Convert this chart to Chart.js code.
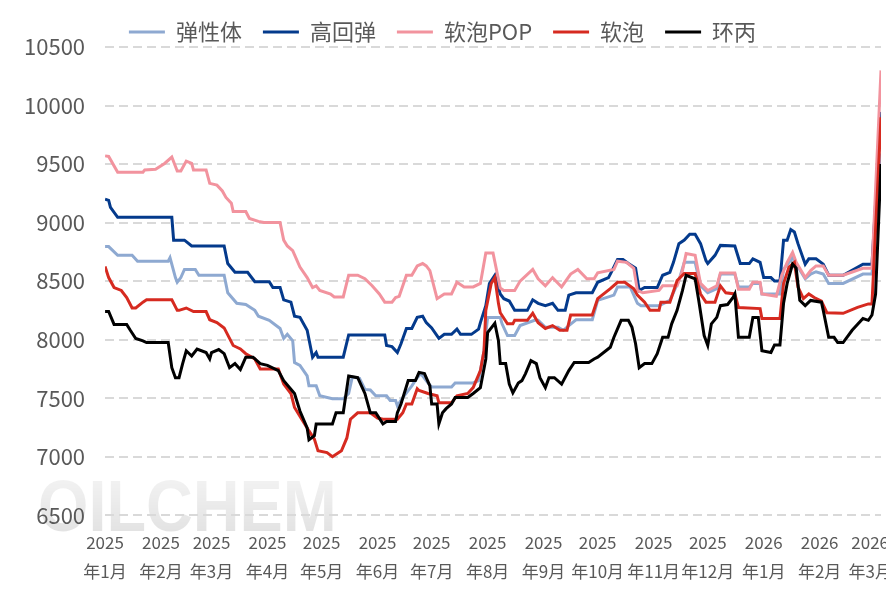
<!DOCTYPE html>
<html>
<head>
<meta charset="utf-8">
<script src="https://cdn.jsdelivr.net/npm/chart.js@4"></script>
<style>
  html, body { margin: 0; padding: 0; background: #fff; }
  #wrap { width: 886px; height: 590px; position: relative; }
</style>
</head>
<body>
<div id="wrap"><canvas id="myChart"></canvas></div>
<script>
// month ticks on the x axis (first day of each month)
const tickMonths = ['2025-01', '2025-02', '2025-03', '2025-04', '2025-05', '2025-06', '2025-07',
  '2025-08', '2025-09', '2025-10', '2025-11', '2025-12', '2026-01', '2026-02', '2026-03'];

// [days since 2025-01-01, price]
const tanxingti = [[0,8795],[2,8795],[7,8720],[15,8720],[18,8670],[35,8670],[36,8700],[39,8530],[40,8490],[42,8530],[44,8600],[50,8600],[52,8550],[66,8550],[68,8400],[73,8310],[78,8300],[83,8250],[85,8200],[91,8165],[97,8095],[99,8010],[101,8045],[104,7990],[105,7805],[108,7780],[112,7690],[113,7605],[117,7605],[119,7520],[126,7495],[132,7495],[135,7540],[137,7680],[141,7670],[144,7575],[147,7570],[150,7520],[156,7520],[158,7480],[161,7480],[162,7435],[165,7505],[170,7605],[173,7675],[175,7710],[179,7630],[181,7595],[192,7595],[194,7630],[204,7630],[207,7650],[210,7905],[212,8190],[219,8190],[220,8135],[223,8035],[227,8035],[230,8120],[238,8165],[240,8165],[244,8105],[251,8105],[254,8080],[257,8120],[261,8170],[270,8170],[273,8335],[282,8380],[284,8450],[291,8450],[295,8310],[297,8290],[307,8290],[313,8335],[318,8505],[321,8660],[327,8660],[330,8460],[334,8400],[339,8435],[341,8560],[349,8560],[351,8450],[357,8450],[359,8480],[363,8480],[364,8390],[374,8390],[376,8600],[381,8700],[384,8620],[388,8520],[391,8560],[394,8580],[398,8560],[401,8480],[409,8480],[420,8560],[425,8560],[430,9590]];

const gaohuitan = [[0,9200],[2,9190],[3,9130],[7,9045],[37,9045],[38,8850],[44,8850],[48,8800],[66,8800],[68,8650],[72,8575],[79,8575],[83,8495],[91,8495],[93,8445],[97,8445],[99,8340],[103,8320],[105,8200],[108,8190],[112,8080],[115,7850],[117,7890],[118,7850],[132,7850],[135,8040],[155,8040],[156,7950],[159,7940],[162,7890],[164,7965],[167,8095],[170,8095],[173,8190],[176,8200],[178,8145],[181,8100],[185,8010],[188,8045],[192,8045],[195,8090],[197,8045],[203,8045],[207,8090],[208,8145],[211,8290],[213,8480],[216,8550],[219,8390],[221,8350],[224,8330],[227,8250],[234,8250],[237,8340],[240,8310],[244,8290],[248,8310],[251,8250],[255,8250],[257,8380],[261,8400],[270,8400],[273,8490],[279,8530],[281,8590],[284,8685],[287,8685],[290,8650],[294,8610],[296,8420],[299,8445],[306,8445],[309,8550],[313,8575],[315,8660],[318,8820],[321,8850],[324,8900],[327,8900],[330,8820],[333,8675],[334,8650],[338,8720],[341,8805],[349,8800],[352,8650],[357,8650],[359,8690],[363,8660],[365,8530],[369,8530],[371,8500],[374,8500],[376,8850],[378,8850],[380,8940],[382,8920],[384,8820],[388,8645],[390,8690],[394,8690],[398,8645],[401,8550],[409,8550],[420,8645],[425,8645],[430,9945]];

const ruanpaoPOP = [[0,9570],[2,9565],[7,9430],[21,9430],[22,9450],[28,9455],[33,9505],[37,9560],[40,9440],[42,9440],[45,9525],[48,9505],[49,9450],[56,9450],[58,9335],[62,9320],[65,9270],[67,9215],[70,9165],[71,9095],[78,9095],[80,9035],[85,9010],[88,9000],[97,9000],[99,8850],[101,8800],[104,8760],[108,8620],[112,8530],[115,8445],[117,8460],[119,8420],[125,8390],[127,8365],[132,8365],[135,8550],[140,8550],[144,8520],[148,8460],[152,8390],[155,8320],[159,8320],[161,8360],[163,8370],[167,8550],[170,8550],[173,8630],[176,8650],[178,8630],[180,8590],[184,8350],[188,8390],[192,8390],[195,8490],[199,8450],[204,8450],[208,8480],[211,8740],[215,8740],[219,8440],[221,8420],[227,8420],[230,8500],[237,8600],[240,8520],[244,8460],[248,8530],[253,8450],[258,8560],[262,8600],[267,8520],[271,8520],[273,8570],[282,8600],[284,8670],[289,8660],[293,8610],[295,8420],[298,8400],[307,8420],[309,8460],[317,8460],[320,8590],[322,8735],[327,8720],[330,8480],[334,8420],[339,8460],[341,8570],[349,8570],[351,8430],[357,8430],[359,8490],[363,8490],[364,8390],[372,8370],[375,8550],[378,8660],[381,8745],[383,8660],[388,8530],[391,8590],[394,8630],[398,8630],[401,8550],[409,8550],[420,8610],[425,8610],[430,10300]];

const ruanpao = [[0,8625],[2,8530],[5,8445],[9,8420],[12,8360],[15,8270],[17,8270],[21,8320],[23,8340],[37,8340],[40,8250],[41,8250],[45,8270],[49,8240],[56,8240],[58,8170],[62,8145],[66,8100],[71,7950],[75,7920],[78,7880],[83,7835],[86,7750],[96,7750],[99,7620],[103,7540],[105,7420],[109,7320],[113,7220],[116,7150],[118,7050],[123,7035],[126,7000],[131,7050],[134,7160],[136,7320],[140,7375],[147,7375],[151,7330],[154,7320],[162,7320],[165,7375],[167,7450],[170,7450],[173,7580],[174,7565],[179,7540],[184,7520],[185,7460],[192,7460],[195,7520],[201,7540],[204,7590],[208,7735],[210,7905],[211,8250],[214,8480],[216,8530],[218,8310],[219,8230],[223,8135],[226,8135],[227,8165],[234,8165],[237,8225],[240,8145],[244,8095],[248,8120],[252,8080],[256,8080],[258,8210],[270,8210],[273,8350],[280,8435],[284,8490],[288,8490],[293,8435],[295,8380],[299,8320],[302,8250],[307,8250],[308,8320],[313,8320],[317,8505],[321,8565],[327,8565],[330,8390],[333,8320],[338,8320],[341,8460],[344,8400],[349,8390],[351,8275],[363,8265],[364,8180],[374,8180],[376,8480],[379,8620],[382,8660],[384,8450],[387,8350],[390,8390],[393,8360],[397,8330],[400,8230],[409,8225],[417,8275],[423,8305],[425,8305],[430,9900]];

const huanbing = [[0,8240],[2,8240],[5,8130],[12,8130],[14,8080],[17,8010],[21,7990],[23,7975],[35,7975],[37,7760],[39,7675],[41,7675],[43,7795],[45,7905],[48,7860],[51,7920],[56,7890],[58,7835],[59,7890],[63,7915],[66,7880],[69,7760],[72,7795],[75,7745],[78,7850],[82,7850],[86,7795],[90,7780],[96,7735],[99,7650],[105,7540],[108,7390],[112,7245],[113,7145],[116,7180],[117,7280],[126,7280],[128,7375],[132,7375],[135,7690],[140,7675],[144,7540],[147,7375],[150,7375],[154,7280],[156,7300],[161,7300],[162,7375],[164,7450],[168,7650],[172,7650],[174,7720],[177,7710],[180,7605],[181,7450],[184,7450],[185,7280],[187,7375],[189,7410],[192,7450],[194,7505],[201,7505],[204,7540],[208,7590],[211,7835],[212,8060],[215,8120],[216,8140],[218,7990],[219,7795],[222,7795],[224,7620],[226,7545],[229,7630],[231,7650],[233,7710],[236,7820],[239,7795],[241,7675],[244,7590],[246,7675],[249,7675],[253,7620],[257,7735],[260,7805],[268,7805],[271,7835],[273,7850],[280,7935],[282,8020],[286,8165],[290,8165],[292,8105],[294,7965],[296,7760],[299,7795],[303,7795],[306,7880],[309,8020],[312,8020],[314,8135],[317,8250],[320,8420],[322,8550],[327,8520],[329,8335],[332,8035],[334,7950],[336,8135],[339,8190],[341,8290],[345,8300],[348,8360],[349,8390],[351,8020],[357,8020],[359,8190],[362,8190],[364,7905],[369,7890],[371,7955],[374,7955],[376,8310],[378,8480],[381,8645],[383,8610],[385,8335],[388,8290],[391,8335],[397,8320],[398,8250],[401,8020],[404,8020],[406,7975],[409,7975],[414,8080],[420,8180],[423,8165],[425,8210],[427,8390],[430,9500]];

const dayMs = 86400000;
const start = Date.UTC(2025, 0, 1);
const tickDays = tickMonths.map(m => {
  const [y, mo] = m.split('-').map(Number);
  return Math.round((Date.UTC(y, mo - 1, 1) - start) / dayMs);
});
const tickLabels = tickMonths.map(m => {
  const [y, mo] = m.split('-').map(Number);
  return [String(y), '年' + mo + '月'];
});

const pts = arr => arr.map(([x, y]) => ({ x, y }));
const font = '"Noto Sans CJK SC", "Noto Sans", sans-serif';
const textColor = '#595959';

function line(label, data, color, order) {
  return {
    label,
    data: pts(data),
    borderColor: color,
    backgroundColor: color,
    borderWidth: 3,
    pointRadius: 0,
    tension: 0,
    fill: false,
    order
  };
}

// grey "OILCHEM" mark in the lower left corner
const watermark = {
  id: 'watermark',
  beforeDraw(chart) {
    const c = chart.ctx;
    c.save();
    c.translate(38, 531);
    c.scale(0.9, 1);
    c.font = 'bold 72px "Liberation Sans", sans-serif';
    c.textAlign = 'left';
    c.textBaseline = 'alphabetic';
    const g = c.createLinearGradient(0, -52, 0, 0);
    g.addColorStop(0, 'rgba(0,0,0,0.05)');
    g.addColorStop(1, 'rgba(0,0,0,0.11)');
    c.fillStyle = g;
    c.fillText('OILCHEM', 0, 0);
    c.restore();
  }
};

const ctx = document.getElementById('myChart').getContext('2d');
const chart = new Chart(ctx, {
  type: 'line',
  data: {
    datasets: [
      line('弹性体', tanxingti, '#8EA9D1', 5),
      line('高回弹', gaohuitan, '#043A8C', 4),
      line('软泡POP', ruanpaoPOP, '#F2939E', 3),
      line('软泡', ruanpao, '#D62A20', 2),
      line('环丙', huanbing, '#000000', 1)
    ]
  },
  plugins: [watermark],
  options: {
    responsive: true,
    maintainAspectRatio: false,
    animation: false,
    layout: { padding: { top: 0, left: 4, right: 5, bottom: -9 } },
    plugins: {
      tooltip: { enabled: false },
      legend: {
        position: 'top',
        maxHeight: 47,
        labels: {
          color: textColor,
          font: { family: font, size: 22 },
          boxWidth: 36,
          boxHeight: 3,
          padding: 21,
          sort: (a, b) => a.datasetIndex - b.datasetIndex,
          generateLabels(chart) {
            return Chart.defaults.plugins.legend.labels.generateLabels(chart).map(l => {
              l.lineWidth = 0;
              l.fillStyle = l.strokeStyle;
              return l;
            });
          }
        }
      }
    },
    scales: {
      x: {
        type: 'linear',
        min: 0,
        max: 430,
        grid: { display: false, drawTicks: false },
        border: { display: false },
        afterBuildTicks(scale) {
          scale.ticks = tickDays.map(v => ({ value: v }));
        },
        afterFit(scale) {
          scale.paddingLeft = 0;
          scale.paddingRight = 0;
        },
        ticks: {
          autoSkip: false,
          maxRotation: 0,
          padding: 13,
          color: textColor,
          font: { family: font, size: 17, lineHeight: 1.7 },
          callback: (value, index) => tickLabels[index]
        }
      },
      y: {
        min: 6500,
        max: 10500,
        grid: {
          color: '#D9D9D9',
          lineWidth: 2,
          drawTicks: false
        },
        border: { display: false, dash: () => [9, 5] },
        ticks: {
          stepSize: 500,
          padding: 20,
          color: textColor,
          font: { family: font, size: 22 },
          callback: v => String(v)
        }
      }
    }
  }
});
</script>
</body>
</html>
